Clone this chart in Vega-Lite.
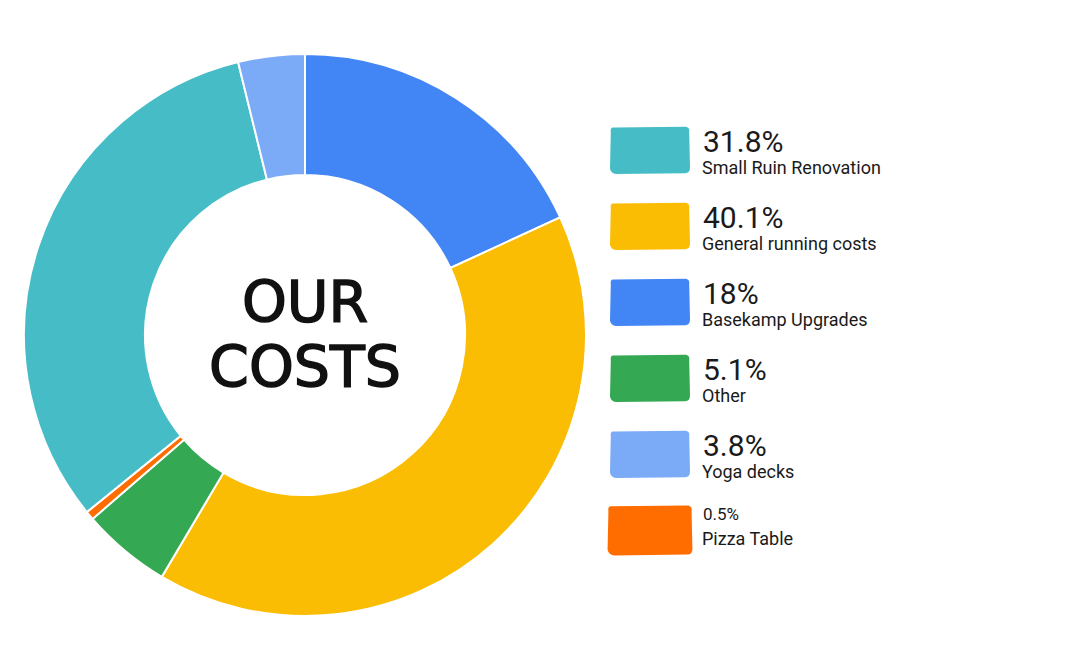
{
  "$schema": "https://vega.github.io/schema/vega-lite/v6.json",
  "background": "white",
  "padding": {"left": 20, "top": 50, "right": 0, "bottom": 0},
  "config": {"view": {"stroke": null}, "concat": {"spacing": 17}},
  "datasets": {
    "costs": [
      {"item": "Basekamp Upgrades", "pct": 18.0, "pct_text": "18%", "seq": 1},
      {"item": "General running costs", "pct": 40.1, "pct_text": "40.1%", "seq": 2},
      {"item": "Other", "pct": 5.1, "pct_text": "5.1%", "seq": 3},
      {"item": "Pizza Table", "pct": 0.5, "pct_text": "0.5%", "seq": 4},
      {"item": "Small Ruin Renovation", "pct": 31.8, "pct_text": "31.8%", "seq": 5},
      {"item": "Yoga decks", "pct": 3.8, "pct_text": "3.8%", "seq": 6}
    ],
    "center": [{"title": ["OUR", "COSTS"]}]
  },
  "hconcat": [
    {
      "width": 570,
      "height": 570,
      "layer": [
        {
          "data": {"name": "costs"},
          "mark": {"type": "arc", "innerRadius": 160, "outerRadius": 281, "stroke": "white", "strokeWidth": 2},
          "encoding": {
            "theta": {"field": "pct", "type": "quantitative", "stack": true},
            "order": {"field": "seq", "type": "quantitative"},
            "color": {
              "field": "item",
              "type": "nominal",
              "legend": null,
              "scale": {
                "domain": ["Small Ruin Renovation", "General running costs", "Basekamp Upgrades", "Other", "Yoga decks", "Pizza Table"],
                "range": ["#46BDC6", "#FBBC04", "#4285F4", "#34A853", "#7BAAF7", "#FF6D01"]
              }
            }
          }
        },
        {
          "data": {"name": "center"},
          "mark": {"type": "text", "font": "DejaVu Sans", "fontSize": 57, "lineHeight": 65, "align": "center", "baseline": "middle", "dy": -30, "color": "#111", "stroke": "#111", "strokeWidth": 1.5},
          "encoding": {"text": {"field": "title"}}
        }
      ]
    },
    {
      "width": 80,
      "height": 570,
      "data": {"name": "costs"},
      "encoding": {
        "y": {
          "field": "item",
          "type": "nominal",
          "sort": ["Small Ruin Renovation", "General running costs", "Basekamp Upgrades", "Other", "Yoga decks", "Pizza Table"],
          "scale": {"type": "point", "range": [100, 480], "padding": 0},
          "axis": null
        }
      },
      "layer": [
        {
          "mark": {"type": "point", "filled": true, "opacity": 1,
            "shape": "M-0.9,-0.56 L0.9,-0.58 Q1,-0.56 0.98,-0.44 L1,0.44 Q1,0.58 0.88,0.58 L-0.85,0.6 Q-0.98,0.58 -1,0.46 L-0.98,-0.44 Q-1,-0.58 -0.9,-0.56 Z"},
          "encoding": {
            "size": {"condition": {"test": "datum.item === 'Pizza Table'", "value": 7200}, "value": 6400},
            "color": {
              "field": "item",
              "type": "nominal",
              "legend": null,
              "scale": {
                "domain": ["Small Ruin Renovation", "General running costs", "Basekamp Upgrades", "Other", "Yoga decks", "Pizza Table"],
                "range": ["#46BDC6", "#FBBC04", "#4285F4", "#34A853", "#7BAAF7", "#FF6D01"]
              }
            }
          }
        },
        {
          "transform": [{"filter": "datum.item !== 'Pizza Table'"}],
          "mark": {"type": "text", "font": "Roboto", "fontSize": 30, "align": "left", "baseline": "alphabetic", "dx": 53, "dy": 2, "color": "#1a1a1a"},
          "encoding": {"text": {"field": "pct_text"}}
        },
        {
          "transform": [{"filter": "datum.item !== 'Pizza Table'"}],
          "mark": {"type": "text", "font": "Roboto", "fontSize": 18, "align": "left", "baseline": "alphabetic", "dx": 52, "dy": 24, "color": "#1a1a1a"},
          "encoding": {"text": {"field": "item"}}
        },
        {
          "transform": [{"filter": "datum.item === 'Pizza Table'"}],
          "mark": {"type": "text", "font": "Roboto", "fontSize": 17, "align": "left", "baseline": "alphabetic", "dx": 53, "dy": -10, "color": "#1a1a1a"},
          "encoding": {"text": {"field": "pct_text"}}
        },
        {
          "transform": [{"filter": "datum.item === 'Pizza Table'"}],
          "mark": {"type": "text", "font": "Roboto", "fontSize": 18, "align": "left", "baseline": "alphabetic", "dx": 52, "dy": 15, "color": "#1a1a1a"},
          "encoding": {"text": {"field": "item"}}
        }
      ]
    }
  ]
}
